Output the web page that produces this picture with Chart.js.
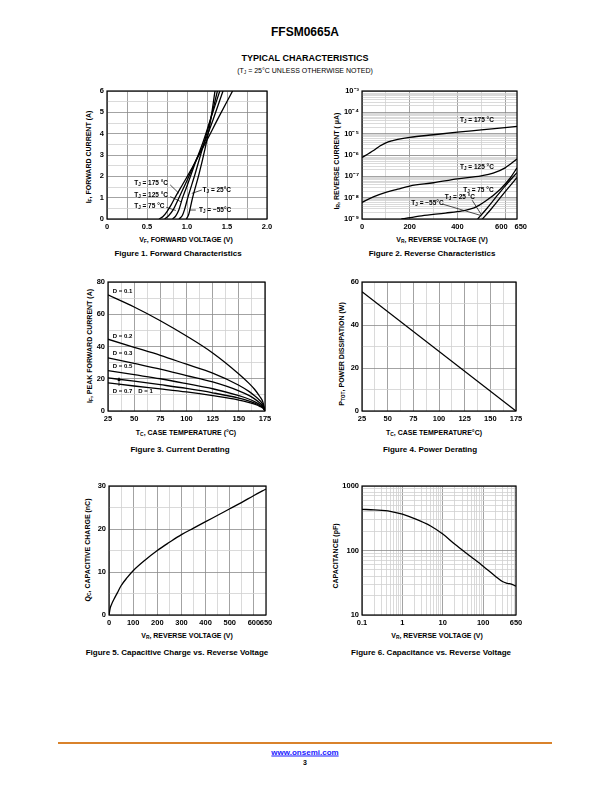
<!DOCTYPE html>
<html lang="en">
<head>
<meta charset="UTF-8">
<title>FFSM0665A - Typical Characteristics</title>
<script src="https://cdn.jsdelivr.net/npm/chart.js"></script>
<style>
  body { margin: 0; width: 612px; height: 792px; position: relative; background: #fff; color: #000;
         font-family: "Liberation Sans", Arial, sans-serif; }
  canvas { position: absolute; }
  .t { position: absolute; white-space: nowrap; transform: translate(-50%, -50%); font-weight: bold; }
  .yt { position: absolute; white-space: nowrap; transform: translate(-50%, -50%) rotate(-90deg); font-weight: bold; font-size: 7px; }
  .xt { font-size: 7px; }
  .cap { font-size: 8px; }
  sub { font-size: 70%; vertical-align: -1.5px; line-height: 0; }
  .rodape { position: absolute; left: 58px; top: 742px; width: 494px; height: 1.5px; background: #d9822b; }
</style>
</head>
<body>
  <div class="t" style="left:305px;top:32px;font-size:12px;">FFSM0665A</div>
  <div class="t" style="left:305px;top:57.5px;font-size:9px;">TYPICAL CHARACTERISTICS</div>
  <div class="t" style="left:305px;top:70px;font-size:7px;font-weight:normal;">(T<sub>J</sub> = 25°C UNLESS OTHERWISE NOTED)</div>

  <!-- Figura 1 -->
  <div class="yt" style="left:88px;top:157px;">I<sub>F</sub>, FORWARD CURRENT (A)</div>
  <div class="t xt" style="left:186px;top:239px;">V<sub>F</sub>, FORWARD VOLTAGE (V)</div>
  <div class="t cap" style="left:178px;top:253px;">Figure 1. Forward Characteristics</div>

  <!-- Figura 2 -->
  <div class="yt" style="left:336px;top:161px;">I<sub>R</sub>, REVERSE CURRENT ( μA)</div>
  <div class="t xt" style="left:442px;top:238.5px;">V<sub>R</sub>, REVERSE VOLTAGE (V)</div>
  <div class="t cap" style="left:432px;top:253px;">Figure 2. Reverse Characteristics</div>

  <!-- Figura 3 -->
  <div class="yt" style="left:89px;top:346px;">I<sub>F</sub>, PEAK FORWARD CURRENT (A)</div>
  <div class="t xt" style="left:186px;top:432px;">T<sub>C</sub>, CASE TEMPERATURE (°C)</div>
  <div class="t cap" style="left:180px;top:448.5px;">Figure 3. Current Derating</div>

  <!-- Figura 4 -->
  <div class="yt" style="left:341px;top:354px;">P<sub>TOT</sub>, POWER DISSIPATION (W)</div>
  <div class="t xt" style="left:434px;top:432px;">T<sub>C</sub>, CASE TEMPERATURE°C)</div>
  <div class="t cap" style="left:430px;top:448.5px;">Figure 4. Power Derating</div>

  <!-- Figura 5 -->
  <div class="yt" style="left:87px;top:550px;">Q<sub>C</sub>, CAPACITIVE CHARGE (nC)</div>
  <div class="t xt" style="left:187px;top:635px;">V<sub>R</sub>, REVERSE VOLTAGE (V)</div>
  <div class="t cap" style="left:177px;top:652px;">Figure 5. Capacitive Charge vs. Reverse Voltage</div>

  <!-- Figura 6 -->
  <div class="yt" style="left:335px;top:556px;">CAPACITANCE (pF)</div>
  <div class="t xt" style="left:437px;top:634.5px;">V<sub>R</sub>, REVERSE VOLTAGE (V)</div>
  <div class="t cap" style="left:431px;top:652px;">Figure 6. Capacitance vs. Reverse Voltage</div>

  <div class="rodape"></div>
  <div class="t" style="left:305px;top:752px;font-size:8px;color:#1a1aff;text-decoration:underline;">www.onsemi.com</div>
  <div class="t" style="left:305px;top:762px;font-size:7px;">3</div>

<script>
    // ---- dados ----
    // Figura 1: corrente direta x tensao
    const fig1Tensao175 = [0.65, 0.70, 0.75, 0.80, 0.85, 0.95, 1.05, 1.15, 1.25, 1.40, 1.57];
    const fig1Corrente175 = [0, 0.12, 0.35, 0.65, 1.0, 1.65, 2.3, 3.0, 3.7, 4.8, 6];
    const fig1Tensao125 = [0.72, 0.77, 0.83, 0.90, 1.00, 1.10, 1.22, 1.33, 1.45];
    const fig1Corrente125 = [0, 0.15, 0.45, 1.0, 1.8, 2.65, 3.6, 4.7, 6];
    const fig1Tensao75 = [0.82, 0.86, 0.90, 0.945, 1.00, 1.10, 1.20, 1.30, 1.41];
    const fig1Corrente75 = [0, 0.15, 0.45, 1.0, 1.55, 2.6, 3.6, 4.75, 6];
    const fig1Tensao25 = [0.90, 0.94, 0.97, 1.01, 1.10, 1.20, 1.30, 1.38];
    const fig1Corrente25 = [0, 0.15, 0.45, 1.0, 2.1, 3.4, 4.75, 6];
    const fig1TensaoM55 = [0.99, 1.02, 1.04, 1.07, 1.15, 1.22, 1.29, 1.35];
    const fig1CorrenteM55 = [0, 0.2, 0.5, 1.0, 2.1, 3.2, 4.5, 6];
    const fig1XValores = [0, 0.5, 1, 1.5, 2];
    const fig1XTextos = ['0', '0.5', '1.0', '1.5', '2.0'];
    const fig1YValores = [0, 1, 2, 3, 4, 5, 6];

    // Figura 2: corrente reversa x tensao
    const fig2Tensao175 = [0, 25, 50, 75, 100, 125, 150, 200, 300, 400, 500, 650];
    const fig2Corrente175 = [7.6e-7, 1.12e-6, 1.66e-6, 2.63e-6, 3.7e-6, 4.6e-6, 5.4e-6, 6.7e-6, 8.9e-6, 1.17e-5, 1.5e-5, 2.2e-5];
    const fig2Tensao125 = [0, 50, 100, 150, 200, 300, 400, 500, 550, 600, 650];
    const fig2Corrente125 = [6.0e-9, 1.12e-8, 1.78e-8, 2.5e-8, 3.5e-8, 5.0e-8, 7.6e-8, 1.05e-7, 1.4e-7, 2.5e-7, 6.5e-7];
    const fig2Tensao75 = [165, 250, 350, 420, 470, 520, 580, 620, 650];
    const fig2Corrente75 = [1e-9, 1.41e-9, 1.9e-9, 2.4e-9, 3.3e-9, 7.1e-9, 2.5e-8, 7.9e-8, 2.5e-7];
    const fig2Tensao25 = [485, 520, 560, 600, 650];
    const fig2Corrente25 = [1e-9, 2.8e-9, 1e-8, 3.5e-8, 1.5e-7];
    const fig2TensaoM55 = [505, 540, 580, 620, 650];
    const fig2CorrenteM55 = [1e-9, 2.8e-9, 1e-8, 3.5e-8, 8.9e-8];
    const fig2XValores = [0, 200, 400, 600, 650];
    const fig2XTextos = ['0', '200', '400', '600\u2002\u2002', '\u2002\u2002650'];
    const fig2YValores = [1e-9, 1e-8, 1e-7, 1e-6, 1e-5, 1e-4, 1e-3];
    const fig2YTextos = ['10⁻⁹', '10⁻⁸', '10⁻⁷', '10⁻⁶', '10⁻⁵', '10⁻⁴', '10⁻³'];

    // Figura 3: derating de corrente (ciclos D)
    const fig3Temp = [25, 50, 75, 100, 125, 150, 160, 165, 170, 173, 175];
    const fig3D01 = [72, 64.5, 56, 46.5, 36, 23, 17, 13.5, 9, 5.5, 0];
    const fig3D02 = [44.5, 39.5, 34.5, 29, 23.5, 16, 12, 9.5, 6.5, 4, 0];
    const fig3D03 = [33, 29.5, 26, 22, 18, 12.5, 9.5, 7.5, 5, 3, 0];
    const fig3D05 = [25, 22.5, 20, 17, 13.8, 9.5, 7.3, 5.8, 4, 2.5, 0];
    const fig3D07 = [20.5, 18.5, 16.3, 14, 11.3, 8, 6.1, 4.9, 3.4, 2.1, 0];
    const fig3D1 = [17.5, 15.5, 13.7, 11.8, 9.5, 6.8, 5.2, 4.2, 2.9, 1.8, 0];
    const fig3XValores = [25, 50, 75, 100, 125, 150, 175];
    const fig3YValores = [0, 20, 40, 60, 80];

    // Figura 4: derating de potencia
    const fig4Temp = [25, 175];
    const fig4Potencia = [55.5, 0];
    const fig4YValores = [0, 20, 40, 60];

    // Figura 5: carga capacitiva
    const fig5Tensao = [0, 5, 10, 20, 35, 50, 75, 100, 150, 200, 250, 300, 350, 400, 450, 500, 550, 600, 650];
    const fig5Carga = [0, 1.6, 2.4, 3.6, 5.2, 6.8, 8.7, 10.3, 12.8, 15, 16.9, 18.7, 20.2, 21.7, 23.2, 24.7, 26.2, 27.8, 29.3];
    const fig5XValores = [0, 100, 200, 300, 400, 500, 600, 650];
    const fig5YValores = [0, 10, 20, 30];

    // Figura 6: capacitancia
    const fig6Tensao = [0.1, 0.2, 0.5, 1, 2, 5, 10, 20, 50, 100, 200, 300, 400, 500, 650];
    const fig6Capacitancia = [435, 425, 405, 365, 312, 240, 180, 125, 80, 57, 40, 33, 31, 30, 28];
    const fig6XValores = [0.1, 1, 10, 100, 650];
    const fig6XTextos = ['0.1', '1', '10', '100', '650'];
    const fig6YValores = [10, 100, 1000];

    // ---- helpers ----
    const FONTE = '"Liberation Sans", Arial, sans-serif';
    const fonteEixo = { family: FONTE, size: 7.5, weight: 'bold' };
    const LARG_Y = 36, ALT_X = 16, PAD_S = 8, PAD_D = 14;

    function perto(a, b) { return Math.abs(a - b) <= 1e-6 * Math.max(Math.abs(a), Math.abs(b), 1e-12); }
    function pontos(xs, ys) { return xs.map((x, i) => ({ x: x, y: ys[i] })); }
    function faixa(ini, fim, passo) {
        const r = [];
        for (let i = 0; ini + i * passo <= fim + 1e-9; i++) r.push(+(ini + i * passo).toFixed(6));
        return r;
    }
    function decadas(min, max) {
        const r = [];
        for (let k = Math.floor(Math.log10(min)); k <= Math.ceil(Math.log10(max)); k++) {
            for (let m = 1; m <= 9; m++) {
                const v = m * Math.pow(10, k);
                if (v >= min * 0.999 && v <= max * 1.001) r.push(v);
            }
        }
        if (!perto(r[r.length - 1], max)) r.push(max);
        return r;
    }
    function rotulador(valores, textos) {
        return v => {
            const i = valores.findIndex(u => perto(u, v));
            if (i < 0) return '';
            return textos ? textos[i] : String(valores[i]);
        };
    }

    function escala(tipo, min, max, grade, fortes, rotulo, eixoX) {
        return {
            type: tipo, min: min, max: max,
            afterBuildTicks: s => { s.ticks = grade.map(v => ({ value: v })); },
            afterFit: s => { if (eixoX) s.height = ALT_X; else s.width = LARG_Y; },
            grid: {
                drawTicks: false, lineWidth: 0.8,
                color: c => (c.tick && fortes.some(f => perto(c.tick.value, f))) ? '#8c8c8c' : '#d0d0d0'
            },
            border: { display: false },
            ticks: { autoSkip: false, maxRotation: 0, minRotation: 0, padding: 3, color: '#000', font: fonteEixo, callback: rotulo }
        };
    }

    // moldura preta em volta da area do grafico
    const moldura = {
        id: 'moldura',
        afterDraw(chart) {
            const a = chart.chartArea, ctx = chart.ctx;
            ctx.save();
            ctx.strokeStyle = '#000';
            ctx.lineWidth = 1.2;
            ctx.strokeRect(a.left, a.top, a.right - a.left, a.bottom - a.top);
            ctx.restore();
        }
    };

    function escrever(ctx, s, px, py, tam) {
        const partes = s.split(/_(\w)/);
        ctx.textBaseline = 'middle';
        ctx.textAlign = 'left';
        partes.forEach((p, i) => {
            ctx.font = 'bold ' + (i % 2 ? tam * 0.7 : tam) + 'px ' + FONTE;
            ctx.fillText(p, px, py + (i % 2 ? 1.8 : 0));
            px += ctx.measureText(p).width;
        });
    }

    // rotulos e linhas de chamada em coordenadas de dados
    function textos(itens, tam) {
        return {
            id: 'textos',
            afterDatasetsDraw(chart) {
                const ctx = chart.ctx, x = chart.scales.x, y = chart.scales.y;
                ctx.save();
                ctx.fillStyle = '#000';
                ctx.strokeStyle = '#000';
                ctx.lineWidth = 0.7;
                itens.forEach(it => {
                    if (it.linha || it.seta) {
                        const l = it.linha || it.seta;
                        const x1 = x.getPixelForValue(l[0]), y1 = y.getPixelForValue(l[1]);
                        const x2 = x.getPixelForValue(l[2]), y2 = y.getPixelForValue(l[3]);
                        ctx.beginPath();
                        ctx.moveTo(x1, y1);
                        ctx.lineTo(x2, y2);
                        ctx.stroke();
                        if (it.seta) {
                            ctx.beginPath();
                            ctx.moveTo(x2, y2 - 1);
                            ctx.lineTo(x2 - 1.5, y2 + 3);
                            ctx.lineTo(x2 + 1.5, y2 + 3);
                            ctx.closePath();
                            ctx.fill();
                        }
                    }
                    if (it.t) escrever(ctx, it.t, x.getPixelForValue(it.x), y.getPixelForValue(it.y), tam);
                });
                ctx.restore();
            }
        };
    }

    function grafico(caixa, series, escalaX, escalaY, rotulos, tam) {
        const cv = document.createElement('canvas');
        cv.width = caixa[2] - caixa[0] + LARG_Y + PAD_D;
        cv.height = caixa[3] - caixa[1] + PAD_S + ALT_X;
        cv.style.left = (caixa[0] - LARG_Y) + 'px';
        cv.style.top = (caixa[1] - PAD_S) + 'px';
        document.body.appendChild(cv);
        return new Chart(cv, {
            type: 'line',
            data: {
                datasets: series.map(d => ({
                    data: d, borderColor: '#000', borderWidth: 1.3, pointRadius: 0,
                    cubicInterpolationMode: 'monotone', fill: false
                }))
            },
            options: {
                responsive: false, animation: false, events: [],
                layout: { padding: { top: PAD_S, right: PAD_D, left: 0, bottom: 0 } },
                plugins: { legend: { display: false }, tooltip: { enabled: false } },
                scales: { x: escalaX, y: escalaY }
            },
            plugins: [moldura, textos(rotulos || [], tam || 6.5)]
        });
    }

    // Figura 1
    grafico([107, 91, 267, 219],
        [pontos(fig1Tensao175, fig1Corrente175), pontos(fig1Tensao125, fig1Corrente125),
         pontos(fig1Tensao75, fig1Corrente75), pontos(fig1Tensao25, fig1Corrente25),
         pontos(fig1TensaoM55, fig1CorrenteM55)],
        escala('linear', 0, 2, faixa(0, 2, 0.25), faixa(0, 2, 0.25), rotulador(fig1XValores, fig1XTextos), true),
        escala('linear', 0, 6, faixa(0, 6, 0.5), fig1YValores, rotulador(fig1YValores), false),
        [
            { t: 'T_J = 175 °C', x: 0.34, y: 1.7, linha: [0.79, 1.6, 0.9, 1.2] },
            { t: 'T_J = 125 °C', x: 0.34, y: 1.12, linha: [0.79, 1.05, 0.93, 0.8] },
            { t: 'T_J = 75 °C', x: 0.34, y: 0.6, linha: [0.74, 0.55, 0.86, 0.4] },
            { t: 'T_J = 25°C', x: 1.195, y: 1.36, linha: [1.185, 1.36, 1.06, 1.2] },
            { t: 'T_J = −55°C', x: 1.15, y: 0.42, linha: [1.11, 0.42, 1.03, 0.42] }
        ]);

    // Figura 2
    grafico([362, 91, 517, 219],
        [pontos(fig2Tensao175, fig2Corrente175), pontos(fig2Tensao125, fig2Corrente125),
         pontos(fig2Tensao75, fig2Corrente75), pontos(fig2Tensao25, fig2Corrente25),
         pontos(fig2TensaoM55, fig2CorrenteM55)],
        escala('linear', 0, 650, faixa(0, 600, 100).concat([650]), [0, 200, 400, 600], rotulador(fig2XValores, fig2XTextos), true),
        escala('logarithmic', 1e-9, 1e-3, decadas(1e-9, 1e-3), fig2YValores, rotulador(fig2YValores, fig2YTextos), false),
        [
            { t: 'T_J = 175 °C', x: 411, y: 4.2e-5 },
            { t: 'T_J = 125 °C', x: 411, y: 2.7e-7 },
            { t: 'T_J = 75 °C', x: 425, y: 2.3e-8 },
            { t: 'T_J = 25 °C', x: 347, y: 1.07e-8, linha: [462, 7.6e-9, 502, 1.5e-9] },
            { t: 'T_J = −55°C', x: 207, y: 5.6e-9, linha: [340, 4.9e-9, 495, 1.5e-9] }
        ]);

    // Figura 3
    grafico([108, 282, 265, 411],
        [fig3D01, fig3D02, fig3D03, fig3D05, fig3D07, fig3D1].map(s => pontos(fig3Temp, s)),
        escala('linear', 25, 175, faixa(25, 175, 12.5), fig3XValores, rotulador(fig3XValores), true),
        escala('linear', 0, 80, faixa(0, 80, 10), fig3YValores, rotulador(fig3YValores), false),
        [
            { t: 'D = 0.1', x: 29.5, y: 74 },
            { t: 'D = 0.2', x: 29.5, y: 46.5 },
            { t: 'D = 0.3', x: 29.5, y: 36 },
            { t: 'D = 0.5', x: 29.5, y: 28 },
            { t: 'D = 0.7', x: 29.5, y: 12 },
            { t: 'D = 1', x: 54, y: 12 },
            { seta: [35.5, 15.5, 35.5, 20.5] }
        ], 6);

    // Figura 4
    grafico([362, 282, 516, 411],
        [pontos(fig4Temp, fig4Potencia)],
        escala('linear', 25, 175, faixa(25, 175, 12.5), fig3XValores, rotulador(fig3XValores), true),
        escala('linear', 0, 60, faixa(0, 60, 10), fig4YValores, rotulador(fig4YValores), false));

    // Figura 5
    grafico([109, 486, 266, 615],
        [pontos(fig5Tensao, fig5Carga)],
        escala('linear', 0, 650, faixa(0, 650, 50), faixa(0, 600, 100), rotulador(fig5XValores), true),
        escala('linear', 0, 30, faixa(0, 30, 5), fig5YValores, rotulador(fig5YValores), false));

    // Figura 6
    grafico([362, 486, 516, 615],
        [pontos(fig6Tensao, fig6Capacitancia)],
        escala('logarithmic', 0.1, 650, decadas(0.1, 650), [0.1, 1, 10, 100], rotulador(fig6XValores, fig6XTextos), true),
        escala('logarithmic', 10, 1000, decadas(10, 1000), fig6YValores, rotulador(fig6YValores), false));
</script>
</body>
</html>
